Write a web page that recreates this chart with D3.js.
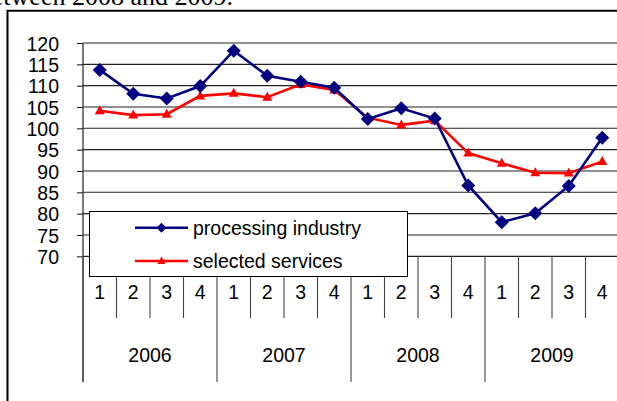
<!DOCTYPE html>
<html>
<head>
<meta charset="utf-8">
<script src="https://cdn.jsdelivr.net/npm/d3@7"></script>
<style>
  body { margin: 0; background: #fff; }
  svg { display: block; }
  text { font-family: "Liberation Sans", Arial, sans-serif; }
</style>
</head>
<body>
<svg width="617" height="401"></svg>
<script>
// Quartale und Jahre
var quarters = ["1", "2", "3", "4"]
var years = ["2006", "2007", "2008", "2009"]
var yTicks = [70, 75, 80, 85, 90, 95, 100, 105, 110, 115, 120]

var processing = [113.7, 108.1, 107.0, 109.9, 118.2, 112.3, 110.9, 109.5,
    102.2, 104.7, 102.3, 86.6, 78.0, 80.1, 86.5, 97.8]
var services = [104.1, 103.1, 103.3, 107.6, 108.2, 107.3, 110.3, 109.0,
    102.5, 100.8, 101.8, 94.2, 91.8, 89.6, 89.5, 92.2]

var legendNames = ["processing industry", "selected services"]

function makeChart() {
    var svg = d3.select("svg")

    var cats = d3.range(years.length * quarters.length)
    var scX = d3.scaleBand().domain(cats).range([83, 619]),
        scY = d3.scaleLinear().domain([70, 120]).range([256.3, 43])
    var bw = scX.bandwidth()

    // Text oben (abgeschnitten wie im Original)
    svg.append("text")
        .attr("x", 233).attr("y", 4.5).attr("text-anchor", "end")
        .style("font-family", "'Liberation Serif', 'Times New Roman', serif")
        .style("font-size", "26px")
        .text("between 2008 and 2009.")

    // Rahmen
    svg.append("path")
        .attr("d", "M7.5,401 V10.8 H620")
        .attr("fill", "none").attr("stroke", "#000").attr("stroke-width", 2)

    // Gitterlinien
    svg.selectAll("line.grid").data(yTicks.filter(d => d > 70)).enter()
        .append("line").attr("class", "grid")
        .attr("x1", 83).attr("x2", 620)
        .attr("y1", d => scY(d)).attr("y2", d => scY(d))
        .attr("stroke", "#222").attr("stroke-width", 1.1)

    // y-Achse
    var yAxis = d3.axisLeft(scY).tickValues(yTicks).tickSize(6).tickPadding(18)
    var ga = svg.append("g").attr("transform", "translate(83,0)").call(yAxis)
    ga.select(".domain").remove()
    ga.selectAll("line").attr("stroke", "#222").attr("stroke-width", 1.1)
    ga.selectAll("text").style("font-size", "19.5px").attr("fill", "#000")
        .attr("font-family", null).attr("dy", "0.36em")

    // x-Achse
    svg.append("line")
        .attr("x1", 83).attr("x2", 620).attr("y1", scY(70)).attr("y2", scY(70))
        .attr("stroke", "#222").attr("stroke-width", 1.2)
    svg.append("line")
        .attr("x1", 83).attr("x2", 83).attr("y1", scY(120)).attr("y2", 382)
        .attr("stroke", "#222").attr("stroke-width", 1.2)

    // Trennstriche
    svg.selectAll("line.sep").data(cats.concat([cats.length])).enter()
        .append("line").attr("class", "sep")
        .attr("x1", d => 83 + d * bw).attr("x2", d => 83 + d * bw)
        .attr("y1", scY(70)).attr("y2", d => d % 4 == 0 ? 382 : 318)
        .attr("stroke", "#444").attr("stroke-width", 1.1)

    svg.selectAll("text.q").data(cats).enter().append("text").attr("class", "q")
        .attr("x", d => scX(d) + bw / 2).attr("y", 299)
        .attr("text-anchor", "middle").style("font-size", "19.5px")
        .text(d => quarters[d % 4])

    svg.selectAll("text.yr").data(years).enter().append("text").attr("class", "yr")
        .attr("x", (d, i) => scX(i * 4) + bw * 2).attr("y", 362)
        .attr("text-anchor", "middle").style("font-size", "19.5px")
        .text(d => d)

    var diamond = "M0,-7L7,0L0,7L-7,0Z",
        tri = "M0,-5.5L5,3.5L-5,3.5Z"

    var line = d3.line().x((d, i) => scX(i) + bw / 2).y(d => scY(d))

    svg.append("path").datum(services).attr("d", line)
        .attr("fill", "none").attr("stroke", "#ff0000").attr("stroke-width", 2.6)
    svg.selectAll("path.tri").data(services).enter().append("path")
        .attr("class", "tri").attr("d", tri).attr("fill", "#ff0000")
        .attr("transform", (d, i) => "translate(" + (scX(i) + bw / 2) + "," + scY(d) + ")")

    svg.append("path").datum(processing).attr("d", line)
        .attr("fill", "none").attr("stroke", "#000080").attr("stroke-width", 2.6)
    svg.selectAll("path.dia").data(processing).enter().append("path")
        .attr("class", "dia").attr("d", diamond).attr("fill", "#000080")
        .attr("transform", (d, i) => "translate(" + (scX(i) + bw / 2) + "," + scY(d) + ")")

    // Legende
    var lg = svg.append("g")
    lg.append("rect").attr("x", 89.5).attr("y", 211.5).attr("width", 318).attr("height", 65)
        .attr("fill", "#fff").attr("stroke", "#000").attr("stroke-width", 1)
    var cols = ["#000080", "#ff0000"], marks = ["M0,-5L5,0L0,5L-5,0Z", "M0,-4.5L4,3L-4,3Z"]
    var rows = [227.7, 261]
    legendNames.forEach(function (n, i) {
        lg.append("line").attr("x1", 135).attr("x2", 188).attr("y1", rows[i]).attr("y2", rows[i])
            .attr("stroke", cols[i]).attr("stroke-width", 2.6)
        lg.append("path").attr("d", marks[i]).attr("fill", cols[i])
            .attr("transform", "translate(161.5," + rows[i] + ")")
        lg.append("text").attr("x", 193).attr("y", rows[i] + 7)
            .style("font-size", "19.5px").text(n)
    })
}

makeChart()
</script>
</body>
</html>
